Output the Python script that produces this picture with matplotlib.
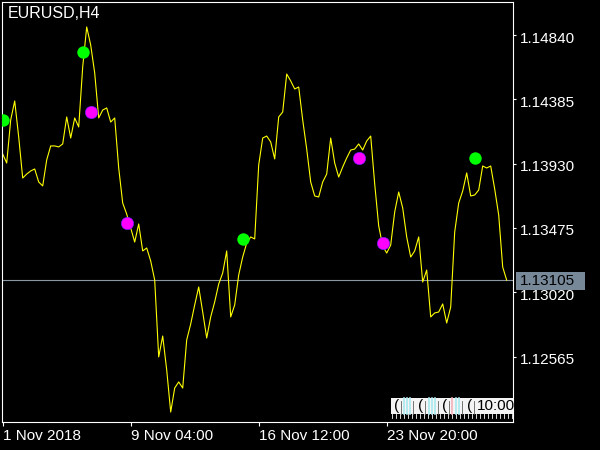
import numpy as np
import matplotlib
matplotlib.use("Agg")
import matplotlib.pyplot as plt
from matplotlib.patches import Rectangle
from matplotlib.lines import Line2D
from matplotlib.transforms import ScaledTranslation

plt.rcParams['font.family'] = ['Liberation Sans', 'DejaVu Sans']

# EURUSD H4 closes, one per bar
closes = [
    1.13998, 1.13934, 1.14239, 1.14373, 1.14118, 1.13828, 1.13856, 1.13878,
    1.13892, 1.13800, 1.13772, 1.13956, 1.14055, 1.14055, 1.14048, 1.14069,
    1.14260, 1.14111, 1.14253, 1.14189, 1.14614, 1.14897, 1.14769, 1.14571,
    1.14253, 1.14309, 1.14324, 1.14224, 1.14253, 1.13899, 1.13651, 1.13573,
    1.13474, 1.13375, 1.13503, 1.13312, 1.13333, 1.13241, 1.13106, 1.12562,
    1.12710, 1.12470, 1.12172, 1.12342, 1.12385, 1.12342, 1.12682, 1.12795,
    1.12930, 1.13057, 1.12880, 1.12696, 1.12845, 1.12951, 1.13078, 1.13156,
    1.13312, 1.12845, 1.12930, 1.13142, 1.13269, 1.13368, 1.13411, 1.13397,
    1.13920, 1.14111, 1.14125, 1.14083, 1.13963, 1.14260, 1.14295, 1.14564,
    1.14515, 1.14458, 1.14472, 1.14239, 1.14033, 1.13800, 1.13701, 1.13694,
    1.13800, 1.13856, 1.14111, 1.13934, 1.13835, 1.13906, 1.13970, 1.14026,
    1.14033, 1.14069, 1.14026, 1.14090, 1.14125, 1.13786, 1.13489, 1.13347,
    1.13297, 1.13354, 1.13588, 1.13729, 1.13616, 1.13411, 1.13269, 1.13312,
    1.13411, 1.13092, 1.13177, 1.12845, 1.12873, 1.12880, 1.12937, 1.12802,
    1.12915, 1.13446, 1.13651, 1.13736, 1.13864, 1.13701, 1.13708, 1.13743,
    1.13913, 1.13899, 1.13913, 1.13750, 1.13566, 1.13198, 1.13105,
]

# signal dots
buy_bars = [0, 20, 60, 118]
buy_prices = [1.14240, 1.14722, 1.13397, 1.13972]
sell_bars = [22, 31, 89, 95]
sell_prices = [1.14297, 1.13512, 1.13972, 1.13368]

bid = 1.13105
price_ticks = [1.12565, 1.13020, 1.13475, 1.13930, 1.14385, 1.14840]
time_ticks = [0, 32, 64, 96]
time_labels = ["1 Nov 2018", "9 Nov 04:00", "16 Nov 12:00", "23 Nov 20:00"]

W, H = 600, 450


def px(x, y):
    # pixel position -> figure fraction
    return x / W, 1 - y / H


fig = plt.figure(figsize=(6, 4.5), dpi=100, facecolor="black")
l, t = px(2.3, 2.3)
r, b = px(513.3, 421.7)
ax = fig.add_axes([l, b, r - l, t - b])
ax.set_facecolor("black")

bars = np.arange(len(closes))
ax.plot(bars, closes, color="#ffff00", lw=0.8, zorder=2)
ax.axhline(bid, color="#8a96a4", lw=0.8, zorder=1)
ax.scatter(buy_bars, buy_prices, s=80, color="#00ff00", zorder=3, linewidths=0)
ax.scatter(sell_bars, sell_prices, s=80, color="#ff00ff", edgecolors="#6020ff",
           linewidths=0.4, zorder=3)

ax.set_xlim(-0.1, 127.65)
ax.set_ylim(1.121037, 1.150714)

for s in ax.spines.values():
    s.set_color("white")
    s.set_linewidth(0.8)

ax.yaxis.tick_right()
ax.set_yticks(price_ticks)
ax.set_yticklabels([f"{p:.5f}" for p in price_ticks])
ax.tick_params(axis="y", colors="white", length=2.5, width=0.8, pad=2.5,
               labelsize=11)
down = ScaledTranslation(0, -2 / 100, fig.dpi_scale_trans)
for lbl in ax.get_yticklabels():
    lbl.set_transform(lbl.get_transform() + down)

ax.set_xticks(time_ticks)
ax.set_xticklabels(time_labels)
ax.tick_params(axis="x", colors="white", length=3, width=0.8, pad=2,
               labelsize=11)
for lbl in ax.get_xticklabels():
    lbl.set_ha("left")

# symbol caption
fig.text(*px(8, 6.5), "EURUSD,H4", color="white", fontsize=11.5, va="top",
         ha="left")

# bid price label
x0, y0 = px(516, 290)
x1, y1 = px(585, 272)
fig.add_artist(Rectangle((x0, y0), x1 - x0, y1 - y0, transform=fig.transFigure,
                         facecolor="#778899", edgecolor="none"))
fig.text(*px(520, 281), f"{bid:.5f}", color="black", fontsize=11,
         va="center", ha="left")

# little time box at the bottom right
x0, y0 = px(390.7, 414)
x1, y1 = px(513, 398.3)
fig.add_artist(Rectangle((x0, y0), x1 - x0, y1 - y0, transform=fig.transFigure,
                         facecolor="#f4f4f4", edgecolor="none", zorder=4))
for xs, c in [(404, "#a8e8f0"), (407, "#a8e8f0"), (410, "#a8e8f0"),
              (429, "#a8e8f0"), (432, "#a8e8f0"), (435, "#a8e8f0"),
              (452, "#f4b0b8"), (456, "#a8e8f0"), (459, "#a8e8f0")]:
    fig.add_artist(Line2D([xs / W, xs / W], [y0, y1], transform=fig.transFigure,
                          color=c, lw=1.2, zorder=5))
for xs in [401, 413, 425, 438, 449, 462, 474]:
    fig.add_artist(Line2D([xs / W, xs / W], [y0, y1 - 3 / H], transform=fig.transFigure,
                          color="#606060", lw=0.6, zorder=5))
for xs in [396.5, 421, 445, 470]:
    fig.text(*px(xs, 406), "(", color="black", fontsize=11, va="center",
             ha="center", zorder=6)
fig.text(*px(476.5, 406), "10:00", color="black", fontsize=11, va="center",
         ha="left", zorder=6)
for xs in range(392, 513, 4):
    fig.add_artist(Line2D([xs / W, xs / W], [1 - 414 / H, 1 - 418 / H],
                          transform=fig.transFigure, color="white", lw=0.6))

fig.savefig("out.png", dpi=100, facecolor="black")
